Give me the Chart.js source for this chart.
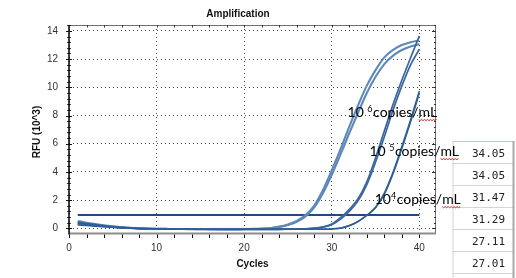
<!DOCTYPE html>
<html><head><meta charset="utf-8">
<script src="https://cdn.jsdelivr.net/npm/chart.js@4"></script>
<style>html,body{margin:0;padding:0;background:#fff;overflow:hidden}#wrap{width:516px;height:278px;position:relative}</style>
</head><body><div id="wrap"><canvas id="c" width="516" height="278"></canvas></div>
<script>
// ---- data ----
const cycles = [1,2,3,4,5,6,7,8,9,10,11,12,13,14,15,16,17,18,19,20,21,22,23,24,25,26,27,28,29,30,31,32,33,34,35,36,37,38,39,40];
const rfu6a = [0.52,0.40,0.30,0.21,0.14,0.08,0.04,0.01,-0.01,-0.03,-0.04,-0.05,-0.05,-0.06,-0.06,-0.06,-0.06,-0.06,-0.06,-0.05,-0.04,-0.02,0.03,0.12,0.28,0.52,0.94,1.62,2.72,4.12,5.62,7.22,8.72,10.12,11.22,12.12,12.66,13.0,13.2,13.32];
const rfu6b = [0.30,0.25,0.19,0.14,0.09,0.05,0.02,0.0,-0.02,-0.03,-0.04,-0.05,-0.05,-0.05,-0.06,-0.06,-0.06,-0.06,-0.06,-0.05,-0.05,-0.03,0.01,0.09,0.24,0.46,0.85,1.48,2.5,3.8,5.25,6.75,8.2,9.6,10.75,11.65,12.25,12.65,12.9,13.05];
const rfu5a = [0.45,0.35,0.26,0.18,0.12,0.07,0.03,0.0,-0.02,-0.04,-0.05,-0.05,-0.06,-0.06,-0.06,-0.06,-0.07,-0.07,-0.07,-0.07,-0.07,-0.07,-0.07,-0.07,-0.06,-0.05,-0.03,0.02,0.1,0.3,0.75,1.35,2.1,3.3,5.0,6.9,8.8,10.5,12.1,13.65];
const rfu5b = [0.35,0.28,0.21,0.15,0.10,0.06,0.02,-0.01,-0.03,-0.04,-0.05,-0.05,-0.06,-0.06,-0.06,-0.07,-0.07,-0.07,-0.07,-0.07,-0.07,-0.07,-0.07,-0.07,-0.06,-0.05,-0.04,0.0,0.08,0.25,0.65,1.2,1.95,3.1,4.7,6.5,8.4,10.1,11.6,12.7];
const rfu4a = [0.40,0.31,0.23,0.16,0.10,0.05,0.02,-0.01,-0.03,-0.04,-0.05,-0.06,-0.06,-0.06,-0.07,-0.07,-0.07,-0.07,-0.07,-0.07,-0.07,-0.07,-0.07,-0.07,-0.07,-0.07,-0.07,-0.07,-0.06,-0.04,0.02,0.2,0.5,0.92,1.5,2.5,4.0,5.8,7.7,9.75];
const rfu4b = [0.25,0.20,0.15,0.11,0.07,0.03,0.0,-0.02,-0.03,-0.04,-0.05,-0.06,-0.06,-0.06,-0.07,-0.07,-0.07,-0.07,-0.07,-0.07,-0.07,-0.07,-0.07,-0.07,-0.07,-0.07,-0.07,-0.07,-0.06,-0.04,0.01,0.18,0.48,0.93,1.46,2.42,3.88,5.65,7.55,9.6];
const thresholdValue = 0.95;
const thresholdCycles = [1, 40];
const ctValues = ['34.05','34.05','31.47','31.29','27.11','27.01'];
const xTickValues = [0,10,20,30,40];
const yTickValues = [0,2,4,6,8,10,12,14];
const titleText = 'Amplification';
const xTitle = 'Cycles';
const yTitle = 'RFU (10^3)';
const annotTexts = [
  {base:'10 ', sup:'6', rest:'copies/', ul:'mL'},
  {base:'10 ', sup:'5', rest:'copies/', ul:'mL'},
  {base:'10',  sup:'4', rest:'copies/', ul:'mL'}
];

// ---- build ----
const pts = arr => cycles.map((c,i)=>({x:c,y:arr[i]}));
const mk = (arr,color,w) => ({data:pts(arr),borderColor:color,borderWidth:w,pointRadius:0,fill:false,cubicInterpolationMode:'monotone'});
const datasets = [
  mk(rfu4b,'#2f5d96',1.5), mk(rfu4a,'#2f5d96',1.5),
  mk(rfu5b,'#3a67a0',1.7), mk(rfu5b,'#a9c3e2',0.4),
  mk(rfu5a,'#3a67a0',1.7), mk(rfu5a,'#a9c3e2',0.4),
  mk(rfu6b,'#5e88ba',2.1), mk(rfu6b,'#dde7f3',0.7),
  mk(rfu6a,'#5e88ba',2.1), mk(rfu6a,'#dde7f3',0.7),
  {data:thresholdCycles.map(c=>({x:c,y:thresholdValue})),borderColor:'#1c4b85',borderWidth:2,pointRadius:0,fill:false}
];

function line(ctx,x1,y1,x2,y2){ctx.beginPath();ctx.moveTo(x1,y1);ctx.lineTo(x2,y2);ctx.stroke();}

const deco = {
  id:'deco',
  afterDraw(chart){
    const {ctx, chartArea:a, scales:{x,y}} = chart;
    ctx.save();
    // frame
    ctx.strokeStyle='#6f6f6f'; ctx.lineWidth=1;
    line(ctx,a.left,a.top+0.5,a.right,a.top+0.5);
    line(ctx,a.right-0.5,a.top,a.right-0.5,a.bottom);
    ctx.strokeStyle='#8c8c8c'; ctx.lineWidth=2;
    line(ctx,a.left,a.bottom+0.5,a.right,a.bottom+0.5);
    ctx.strokeStyle='#000'; ctx.lineWidth=1.5;
    line(ctx,a.left,a.top,a.left,a.bottom+1.5);
    // x ticks
    ctx.lineWidth=1; ctx.strokeStyle='#111';
    for(let i=0;i*2<=x.max;i++){
      const px=Math.round(x.getPixelForValue(i*2))+0.5;
      line(ctx,px,a.bottom+1.5,px,a.bottom+5);
      ctx.strokeStyle='#333'; line(ctx,px,a.top,px,a.top+2.5); ctx.strokeStyle='#111';
    }
    // y ticks
    for(let i=0;i*0.4<=y.max;i++){
      const major=i%5===0;
      const py=Math.round(y.getPixelForValue(i*0.4))+0.5;
      const w=major?3:1.8;
      line(ctx,a.left-w,py,a.left+w,py);
      ctx.strokeStyle='#333'; line(ctx,a.right-(major?4:2),py,a.right,py); ctx.strokeStyle='#111';
    }
    // titles
    ctx.fillStyle='#111'; ctx.font='bold 10px "Liberation Sans", Arial';
    ctx.textAlign='center'; ctx.textBaseline='middle';
    ctx.fillText(titleText,238,14);
    ctx.fillText(xTitle,(a.left+a.right)/2,264);
    ctx.save(); ctx.translate(37,132); ctx.rotate(-Math.PI/2); ctx.fillText(yTitle,0,0); ctx.restore();
    // table
    const tl=452.5, tr=513, t0=141, rh=22;
    ctx.strokeStyle='#d4d4d4'; ctx.lineWidth=1;
    for(let r=1;r<=ctValues.length;r++) line(ctx,tl,t0+r*rh+0.5,tr,t0+r*rh+0.5);
    line(ctx,tl+0.5,t0,tl+0.5,278);
    ctx.strokeStyle='#b9c9da'; line(ctx,tl,t0+0.5,tr,t0+0.5);
    ctx.strokeStyle='#a8a8a8'; ctx.lineWidth=2; line(ctx,tr+0.5,t0,tr+0.5,278);
    ctx.fillStyle='#222'; ctx.font='11px "DejaVu Sans Mono", monospace';
    ctx.textAlign='right'; ctx.textBaseline='middle';
    ctValues.forEach((v,r)=>ctx.fillText(v,505,t0+r*rh+rh/2+2));
    // annotations
    const pos=[[31.8,7.9],[34.3,5.13],[34.9,1.72]];
    annotTexts.forEach((t,i)=>{
      let px=x.getPixelForValue(pos[i][0]); const py=y.getPixelForValue(pos[i][1]);
      ctx.textAlign='left'; ctx.textBaseline='alphabetic'; ctx.fillStyle='#000';
      ctx.font='14px Lato';
      ctx.fillText(t.base,px,py); px+=ctx.measureText(t.base).width;
      ctx.font='9px Lato'; ctx.fillText(t.sup,px,py-5); px+=ctx.measureText(t.sup).width+0.5;
      ctx.font='14px Lato';
      ctx.fillText(t.rest,px,py); px+=ctx.measureText(t.rest).width;
      const wul=ctx.measureText(t.ul).width;
      ctx.fillText(t.ul,px,py);
      ctx.strokeStyle='#e02020'; ctx.lineWidth=1;
      ctx.beginPath();
      for(let k=0;k<=wul;k+=1.5){ const yy=py+2.5+((Math.round(k/1.5)%2)?1.2:0); if(k===0)ctx.moveTo(px+k,yy); else ctx.lineTo(px+k,yy); }
      ctx.stroke();
    });
    ctx.restore();
  }
};

new Chart(document.getElementById('c'),{
  type:'line',
  data:{datasets},
  options:{
    responsive:false, animation:false, devicePixelRatio:1,
    layout:{padding:{left:0,top:25,right:80,bottom:0}},
    plugins:{legend:{display:false},tooltip:{enabled:false},title:{display:false}},
    scales:{
      x:{type:'linear',min:0,max:41.9,
        afterBuildTicks:s=>{s.ticks=xTickValues.map(v=>({value:v}));},
        afterFit:s=>{s.height=45;},
        grid:{color:'#444',lineWidth:1,drawTicks:false},
        border:{display:false,dash:[1,3]},
        ticks:{padding:9,color:'#333',font:{family:'"Liberation Sans", Arial',size:10},maxRotation:0,autoSkip:false}},
      y:{type:'linear',min:-0.33,max:14.42,
        afterBuildTicks:s=>{s.ticks=yTickValues.map(v=>({value:v}));},
        afterFit:s=>{s.width=69;},
        grid:{color:'#444',lineWidth:1,drawTicks:false},
        border:{display:false,dash:[1,3]},
        ticks:{padding:11,color:'#333',font:{family:'"Liberation Sans", Arial',size:10},autoSkip:false}}
    }
  },
  plugins:[deco]
});
</script></body></html>
